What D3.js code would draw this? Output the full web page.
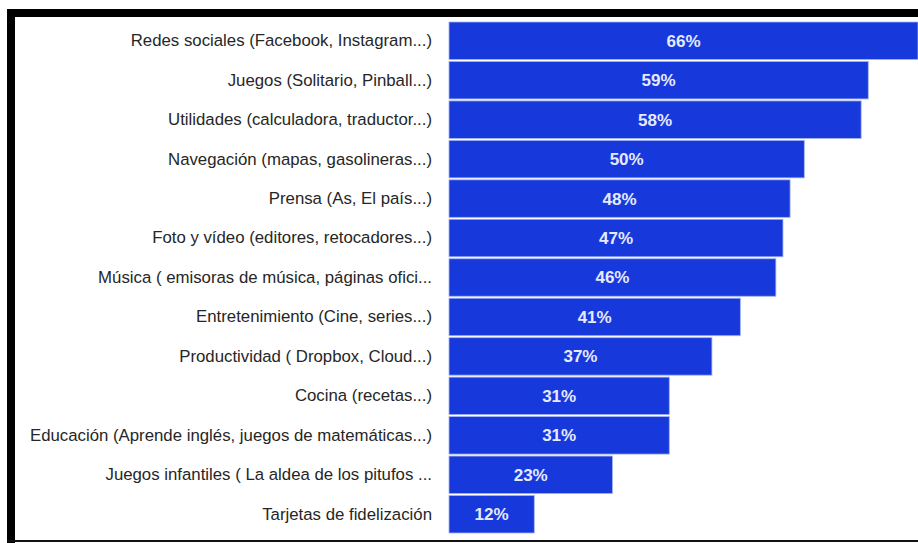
<!DOCTYPE html>
<html><head><meta charset="utf-8">
<script src="https://cdn.jsdelivr.net/npm/d3@7"></script>
<style>html,body{margin:0;padding:0;background:#fff;}svg{display:block;}</style>
</head><body>
<script>
const categories = [
  "Redes sociales (Facebook, Instagram...)",
  "Juegos (Solitario, Pinball...)",
  "Utilidades (calculadora, traductor...)",
  "Navegación (mapas, gasolineras...)",
  "Prensa (As, El país...)",
  "Foto y vídeo (editores, retocadores...)",
  "Música ( emisoras de música, páginas ofici...",
  "Entretenimiento (Cine, series...)",
  "Productividad ( Dropbox, Cloud...)",
  "Cocina (recetas...)",
  "Educación (Aprende inglés, juegos de matemáticas...)",
  "Juegos infantiles ( La aldea de los pitufos ...",
  "Tarjetas de fidelización"
];
const values = [66, 59, 58, 50, 48, 47, 46, 41, 37, 31, 31, 23, 12];

const W = 918, H = 543;
const svg = d3.select("body").append("svg").attr("width", W).attr("height", H);

const x = d3.scaleLinear().domain([0, 66]).range([449, 918]);
const y = d3.scaleBand().domain(categories).range([22, 533]).paddingInner(0.05).paddingOuter(0);

// frame
svg.append("rect").attr("x", 7).attr("y", 9).attr("width", W - 7).attr("height", 8).attr("fill", "#000");
svg.append("rect").attr("x", 7).attr("y", 9).attr("width", 8).attr("height", H - 9).attr("fill", "#000");
svg.append("rect").attr("x", 7).attr("y", 540).attr("width", W - 7).attr("height", 2).attr("fill", "#111");

svg.append("g").selectAll("rect").data(values).join("rect")
  .attr("x", x(0))
  .attr("y", (d, i) => y(categories[i]))
  .attr("width", d => x(d) - x(0))
  .attr("height", y.bandwidth())
  .attr("fill", "#1739dc")
  .attr("stroke", "#a3b2f3")
  .attr("stroke-width", 0.8);

svg.append("g").selectAll("text").data(values).join("text")
  .attr("x", d => (x(0) + x(d)) / 2)
  .attr("y", (d, i) => y(categories[i]) + y.bandwidth() / 2)
  .attr("dy", "0.35em")
  .attr("text-anchor", "middle")
  .attr("font-family", "Liberation Sans, Arial, sans-serif")
  .attr("font-weight", "bold")
  .attr("font-size", 17)
  .attr("fill", "#e6eaff")
  .text(d => d + "%");

const yAxis = d3.axisLeft(y).tickSize(0).tickPadding(0);
const ag = svg.append("g").attr("transform", "translate(432,0)").call(yAxis);
ag.select(".domain").remove();
ag.selectAll("text")
  .attr("font-family", "Liberation Sans, Arial, sans-serif")
  .attr("font-size", 16.8)
  .attr("fill", "#262626");
</script>
</body></html>
